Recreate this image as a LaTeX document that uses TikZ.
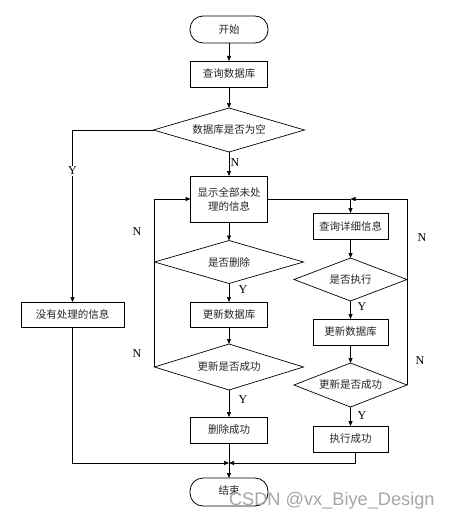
\documentclass[tikz,border=0pt]{standalone}
\usepackage{fontspec}
\setmainfont{Liberation Serif}
\newfontfamily\cjk{Noto Sans CJK SC}
\newfontfamily\wmfont{Liberation Sans}
\usetikzlibrary{shapes.geometric,arrows.meta}
\begin{document}
\begin{tikzpicture}[x=1pt,y=-1pt,
  every node/.style={inner sep=0pt,outer sep=0pt},
  txt/.style={font=\cjk\fontsize{10.5}{14}\selectfont, text=black!85},
  procbox/.style={txt,draw,line width=0.9pt,rectangle,minimum width=77pt,minimum height=26pt,align=center},
  termbox/.style={txt,draw,line width=0.8pt,rectangle,rounded corners=13pt,minimum width=78pt,minimum height=27pt},
  decbox/.style={txt,draw,line width=0.7pt,diamond,aspect=3.4},
  arr/.style={line width=0.7pt,-{Triangle[length=5pt,width=4pt]}},
  ln/.style={line width=0.7pt},
  lbl/.style={font=\fontsize{12}{12}\selectfont}
]
\useasboundingbox (0,0) rectangle (451,519);
% main column
\node[termbox] (start) at (229,29.5) {开始};
\node[procbox] (q1) at (229,74) {查询数据库};
\node[decbox,minimum width=151pt,minimum height=44pt] (d1) at (229,130) {数据库是否为空};
\node[procbox,minimum height=46pt] (show) at (229,199) {显示全部未处\\理的信息};
\node[decbox,minimum width=149pt,minimum height=43pt] (d2) at (229,262) {是否删除};
\node[procbox,minimum height=25pt] (upd1) at (229,314.5) {更新数据库};
\node[decbox,minimum width=149pt,minimum height=46pt] (d3) at (229,367) {更新是否成功};
\node[procbox] (del) at (229,430) {删除成功};
\node[termbox,minimum height=28pt] (end) at (229,492) {\raisebox{3pt}{结束}};
% left
\node[procbox,minimum width=103pt,minimum height=25pt] (nobox) at (72.5,314.5) {没有处理的信息};
% right column
\node[procbox,minimum width=75pt] (q2) at (350.5,226) {查询详细信息};
\node[decbox,minimum width=113pt,minimum height=43pt] (d4) at (350.5,279.5) {是否执行};
\node[procbox,minimum width=75pt] (upd2) at (350.5,332) {更新数据库};
\node[decbox,minimum width=113pt,minimum height=44pt] (d5) at (350.5,385) {更新是否成功};
\node[procbox,minimum width=75pt] (exec) at (350.5,439) {执行成功};
\coordinate (m) at (229,463);
% connectors main
\draw[arr] (start) -- (q1);
\draw[arr] (q1) -- (d1);
\draw[arr] (d1) -- (show);
\draw[arr] (show) -- (d2);
\draw[arr] (d2) -- (upd1);
\draw[arr] (upd1) -- (d3);
\draw[arr] (d3) -- (del);
\draw[arr] (del) -- (end);
% left loops
\draw[arr] (d3.west) -- (d3.west |- show.west) -- (show.west);
\draw[ln] (d2.west) -- (d3.west |- d2.west);
% no-info branch
\draw[arr] (d1.west) -| (nobox.north);
\draw[arr] (nobox.south) |- (m);
% right branch
\draw[arr] (show.east) -| (q2.north);
\draw[arr] (q2) -- (d4);
\draw[arr] (d4) -- (upd2);
\draw[arr] (upd2) -- (d5);
\draw[arr] (d5) -- (exec);
\draw[arr] (d4.east) -- (d4.east |- show.east) -- (q2.north |- show.east);
\draw[ln] (d5.east) -- (d4.east);
\draw[arr] ([xshift=5pt]exec.south) |- (m);
% labels
\node[lbl] (lN1) at (235,163) {N};
\node[lbl,fill=white,inner sep=1pt] (lY1) at (72.5,171) {Y};
\node[lbl] (lN2) at (137,232) {N};
\node[lbl] (lY2) at (243,290) {Y};
\node[lbl] (lN3) at (137,354) {N};
\node[lbl] (lY3) at (243,400) {Y};
\node[lbl] (lN4) at (422,238) {N};
\node[lbl] (lY4) at (362,307) {Y};
\node[lbl] (lN5) at (420,361) {N};
\node[lbl] (lY5) at (362,416) {Y};
% watermark
\node[font=\wmfont\fontsize{18.2}{18}\selectfont,text=black!35,anchor=base west] (wm) at (229,505) {CSDN @vx\_Biye\_Design};
\end{tikzpicture}
\end{document}
